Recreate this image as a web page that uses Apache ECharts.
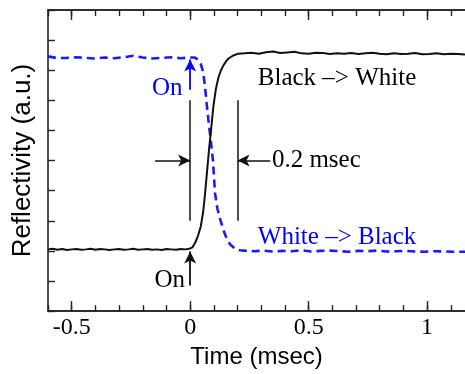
<!DOCTYPE html>
<html>
<head>
<meta charset="utf-8">
<script src="https://cdn.jsdelivr.net/npm/echarts@6/dist/echarts.min.js"></script>
<style>html,body{margin:0;padding:0;background:#fff}#c{width:465px;height:374px}</style>
</head>
<body>
<div id="c"></div>
<script>
// ---- data (time in msec, reflectivity in a.u.) ----
var blackTime = [-0.6,-0.58,-0.56,-0.54,-0.52,-0.5,-0.48,-0.46,-0.44,-0.42,-0.4,-0.38,-0.36,-0.34,-0.32,-0.3,-0.28,-0.26,-0.24,-0.22,-0.2,-0.18,-0.16,-0.14,-0.12,-0.1,-0.08,-0.06,-0.04,-0.02,0,
  0.01,0.021,0.033,0.045,0.055,0.063,0.072,0.08,0.088,0.098,0.108,0.119,0.13,0.141,0.152,0.162,0.18,0.203,
  0.23,0.26,0.29,0.32,0.35,0.38,0.41,0.44,0.47,0.5,0.53,0.56,0.59,0.62,0.65,0.68,0.71,0.74,0.77,0.8,0.83,0.86,0.89,0.92,0.95,0.98,1.01,1.04,1.07,1.1,1.13,1.16];
var blackValue = [2.05,2.07,2.04,2.06,2.03,2.05,2.06,2.04,2.05,2.07,2.04,2.06,2.05,2.03,2.05,2.06,2.04,2.05,2.07,2.04,2.05,2.06,2.04,2.05,2.03,2.06,2.05,2.04,2.06,2.05,2.08,
  2.12,2.27,2.5,2.82,3.3,3.91,4.7,5.4,6.0,6.8,7.35,7.75,8.0,8.17,8.3,8.39,8.48,8.55,
  8.56,8.58,8.55,8.6,8.62,8.57,8.59,8.61,8.56,8.55,8.58,8.57,8.54,8.56,8.55,8.57,8.54,8.56,8.58,8.55,8.53,8.56,8.54,8.55,8.57,8.53,8.54,8.56,8.53,8.55,8.54,8.52];

var blueTime = [-0.6,-0.56,-0.52,-0.48,-0.44,-0.4,-0.36,-0.32,-0.28,-0.24,-0.2,-0.16,-0.12,-0.08,-0.04,0,
  0.02,0.035,0.045,0.054,0.062,0.07,0.077,0.084,0.096,0.105,0.115,0.127,0.14,0.155,0.17,0.19,0.21,0.24,
  0.27,0.31,0.35,0.39,0.43,0.47,0.51,0.55,0.59,0.63,0.67,0.71,0.75,0.79,0.83,0.87,0.91,0.95,0.99,1.03,1.07,1.11,1.15,1.16];
var blueValue = [8.46,8.4,8.41,8.43,8.41,8.39,8.42,8.4,8.43,8.48,8.42,8.39,8.41,8.43,8.4,8.42,
  8.42,8.34,8.2,7.96,7.5,6.86,6.35,5.88,5.02,3.91,3.4,3.05,2.7,2.39,2.2,2.07,2.02,2.0,
  1.99,2.01,1.98,2.0,1.99,2.02,1.98,2.0,2.01,1.99,1.97,2.0,1.99,2.01,1.98,1.99,2.0,1.98,1.97,1.99,1.98,1.97,1.97,1.97];

var minorTicks = [-0.6,-0.5,-0.4,-0.3,-0.2,-0.1,0,0.1,0.2,0.3,0.4,0.5,0.6,0.7,0.8,0.9,1,1.1];
var majorTicks = [-0.5,0,0.5,1];

// annotation anchors (data coordinates)
var markerTimes = [0, 0.2];          // vertical bracket lines
var markerSpan = [3.0, 7.0];         // their vertical extent
var arrowLevel = 5.0;                // horizontal arrows height
var leftArrowFrom = -0.148, rightArrowFrom = 0.338;
var blueOnArrow = [7.35, 8.36];
var blackOnArrow = [0.85, 1.98];
var texts = [
  {t: -0.097, v: 7.41, text: 'On', color: '#0000ff', align: 'center'},
  {t: -0.086, v: 1.02, text: 'On', color: '#000', align: 'center'},
  {t: 0.62, v: 7.74, text: 'Black \u2013> White', color: '#000', align: 'center'},
  {t: 0.62, v: 2.44, text: 'White \u2013> Black', color: '#0000ff', align: 'center'},
  {t: 0.345, v: 5.0, text: '0.2 msec', color: '#000', align: 'left'}
];

function zip(a, b) { return a.map(function (x, i) { return [x, b[i]]; }); }

var serif = "'Liberation Serif', 'Times New Roman', serif";
var sans = "'Liberation Sans', Arial, sans-serif";
var axisColor = '#222';

function xAx(pos, ticks, len, withLabels) {
  return {
    type: 'value', position: pos, min: -0.6, max: 1.16,
    axisLine: {show: true, onZero: false, lineStyle: {color: axisColor, width: 1.6}},
    axisTick: {show: true, inside: true, length: len, customValues: ticks, lineStyle: {color: axisColor, width: 1.4}},
    axisLabel: withLabels ? {show: true, customValues: majorTicks, margin: 5, fontFamily: serif, fontSize: 24, color: '#000'} : {show: false},
    splitLine: {show: false}
  };
}

var xAxes = [xAx('bottom', minorTicks, 6, true), xAx('top', minorTicks, 6, false), xAx('bottom', majorTicks, 10, false), xAx('top', majorTicks, 10, false)];
xAxes[0].name = 'Time (msec)';
xAxes[0].nameLocation = 'middle';
xAxes[0].nameGap = 32;
xAxes[0].nameTextStyle = {fontFamily: sans, fontSize: 24, color: '#000'};

var vmark = [];
markerTimes.forEach(function (t) {
  vmark.push([{coord: [t, markerSpan[0]], symbol: 'none'}, {coord: [t, markerSpan[1]], symbol: 'none', lineStyle: {color: '#222', width: 1.6}}]);
});
vmark.push([{coord: [leftArrowFrom, arrowLevel], symbol: 'none'}, {coord: [0, arrowLevel], symbol: 'arrow', symbolSize: [9, 12], lineStyle: {color: '#111', width: 1.6}}]);
vmark.push([{coord: [rightArrowFrom, arrowLevel], symbol: 'none'}, {coord: [0.2, arrowLevel], symbol: 'arrow', symbolSize: [9, 12], lineStyle: {color: '#111', width: 1.6}}]);
vmark.push([{coord: [0, blueOnArrow[0]], symbol: 'none'}, {coord: [0, blueOnArrow[1]], symbol: 'arrow', symbolSize: [9, 12], itemStyle: {color: '#0000ff'}, lineStyle: {color: '#0000ff', width: 1.8}}]);
vmark.push([{coord: [0, blackOnArrow[0]], symbol: 'none'}, {coord: [0, blackOnArrow[1]], symbol: 'arrow', symbolSize: [9, 12], itemStyle: {color: '#111'}, lineStyle: {color: '#111', width: 1.8}}]);

var option = {
  animation: false,
  backgroundColor: '#fff',
  grid: {left: 48, right: 0, top: 10, bottom: 58, show: false},
  xAxis: xAxes,
  yAxis: {
    type: 'value', min: 0, max: 10, interval: 1,
    axisLine: {show: true, onZero: false, lineStyle: {color: axisColor, width: 1.6}},
    axisTick: {show: true, inside: true, length: 7, lineStyle: {color: axisColor, width: 1.4}},
    axisLabel: {show: false}, splitLine: {show: false},
    name: 'Reflectivity (a.u.)', nameLocation: 'middle', nameGap: 12,
    nameTextStyle: {fontFamily: sans, fontSize: 26, color: '#000'}
  },
  series: [
    {type: 'line', data: zip(blueTime, blueValue), showSymbol: false, symbol: 'none',
     lineStyle: {color: '#1a1aff', width: 2.6, type: [8, 5]}, z: 3},
    {type: 'line', data: zip(blackTime, blackValue), showSymbol: false, symbol: 'none',
     lineStyle: {color: '#111', width: 2}, z: 4},
    {type: 'line', data: [], markLine: {silent: true, animation: false, label: {show: false},
      lineStyle: {type: 'solid'}, data: vmark}},
    {type: 'scatter', symbolSize: 0, z: 5, itemStyle: {opacity: 1},
     data: texts.map(function (d) {
       return {value: [d.t, d.v], label: {show: true, position: 'inside', formatter: d.text, color: d.color, opacity: 1,
         fontFamily: serif, fontSize: 25, align: d.align, verticalAlign: 'middle', offset: [0, 0]}};
     })}
  ]
};
echarts.init(document.getElementById('c'), null, {renderer: 'canvas'}).setOption(option);
</script>
</body>
</html>
